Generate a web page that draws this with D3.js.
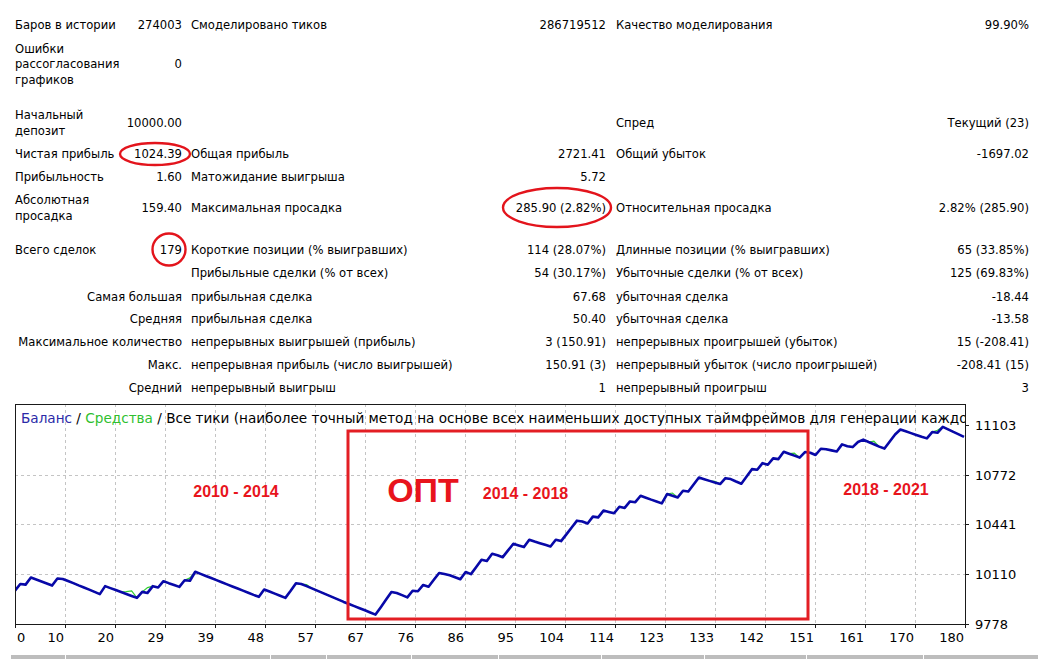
<!DOCTYPE html>
<html>
<head>
<meta charset="utf-8">
<script src="https://cdn.jsdelivr.net/npm/d3@7"></script>
<style>
  body { margin: 0; background: #fff; }
  svg { display: block; font-family: "DejaVu Sans", sans-serif; }
</style>
</head>
<body>
<div id="chart"></div>
<script>
// report table: label, value, label, value, label, value
const reportRows = [
  ["Баров в истории", "274003", "Смоделировано тиков", "286719512", "Качество моделирования", "99.90%"],
  ["Ошибки\nрассогласования\nграфиков", "0", "", "", "", ""],
  ["Начальный\nдепозит", "10000.00", "", "", "Спред", "Текущий (23)"],
  ["Чистая прибыль", "1024.39", "Общая прибыль", "2721.41", "Общий убыток", "-1697.02"],
  ["Прибыльность", "1.60", "Матожидание выигрыша", "5.72", "", ""],
  ["Абсолютная\nпросадка", "159.40", "Максимальная просадка", "285.90 (2.82%)", "Относительная просадка", "2.82% (285.90)"],
  ["Всего сделок", "179", "Короткие позиции (% выигравших)", "114 (28.07%)", "Длинные позиции (% выигравших)", "65 (33.85%)"],
  ["", "", "Прибыльные сделки (% от всех)", "54 (30.17%)", "Убыточные сделки (% от всех)", "125 (69.83%)"],
  ["Самая большая", "", "прибыльная сделка", "67.68", "убыточная сделка", "-18.44"],
  ["Средняя", "", "прибыльная сделка", "50.40", "убыточная сделка", "-13.58"],
  ["Максимальное количество", "", "непрерывных выигрышей (прибыль)", "3 (150.91)", "непрерывных проигрышей (убыток)", "15 (-208.41)"],
  ["Макс.", "", "непрерывная прибыль (число выигрышей)", "150.91 (3)", "непрерывный убыток (число проигрышей)", "-208.41 (15)"],
  ["Средний", "", "непрерывный выигрыш", "1", "непрерывный проигрыш", "3"]
];

// balance after each trade (trade 0 = initial deposit)
const balance = [
  10000, 10044, 10040, 10087, 10074, 10061, 10048, 10034, 10081, 10078,
  10064, 10050, 10035, 10021, 10007, 9992, 9977, 10030, 10017, 10004,
  9991, 9978, 9965, 9952, 9992, 9985, 10030, 10021, 10063, 10050,
  10038, 10025, 10069, 10066, 10126, 10112, 10098, 10084, 10070, 10056,
  10042, 10028, 10014, 10000, 9986, 9972, 9959, 10008, 9994, 9980,
  9966, 9952, 9999, 10049, 10044, 10030, 10015, 10000, 9985, 9970,
  9955, 9940, 9925, 9911, 9897, 9883, 9869, 9855, 9840.6, 9890,
  9941, 9991.5, 9984, 9970, 9955, 9999, 9996, 10038, 10026, 10073,
  10118, 10111, 10102, 10089, 10076, 10124, 10110, 10158, 10206, 10198,
  10246, 10236, 10223, 10268, 10312, 10301, 10290, 10339, 10327, 10316,
  10305, 10294, 10339, 10330, 10375, 10421, 10466, 10461, 10447, 10493,
  10488, 10533, 10524, 10515, 10559, 10551, 10594, 10589, 10632, 10619,
  10606, 10594, 10581, 10643, 10632, 10621, 10665, 10660, 10707, 10753,
  10742, 10731, 10720, 10710, 10749, 10743, 10727, 10712, 10760, 10809,
  10805, 10849, 10838, 10881, 10876, 10925, 10912, 10899, 10886, 10923,
  10918, 10903, 10945, 10941, 10934, 10927, 10974, 10962, 10956, 10990,
  11006, 10990, 10975, 10959, 10946, 10993, 11040, 11073, 11061, 11049,
  11037, 11025, 11014, 11056, 11051, 11091, 11074, 11057, 11041, 11024.39
];

// equity where it differs from balance: [trade, value]
const equityDiffs = [
  [21, 9993], [22, 9998], [25, 10020], [33, 10085], [55, 10040],
  [124, 10650], [132, 10728], [147, 10915], [162, 10995], [174, 11068]
];

const xTickLabels = ["0", "10", "20", "29", "39", "48", "57", "67", "76", "86",
  "95", "104", "114", "123", "133", "142", "151", "161", "170", "180"];
const yTickValues = [9778, 10110, 10441, 10772, 11103];

const periodLabels = ["2010 - 2014", "2014 - 2018", "2018 - 2021"];
const optLabel = "ОПТ";

const W = 1043, H = 659;
const svg = d3.select("#chart").append("svg")
  .attr("width", W)
  .attr("height", H);

// ---- table ----
const rowCenters = [25, 64, 122.5, 154, 177, 208, 250, 273, 296.5, 319, 342, 365, 388];
const lineH = 15.7;
const table = svg.append("g").attr("font-size", "11.6px").attr("fill", "#000");

function putText(str, x, cy, anchor) {
  if (!str) return;
  const lines = str.split("\n");
  const t = table.append("text")
    .attr("x", x)
    .attr("text-anchor", anchor);
  lines.forEach((ln, i) => {
    t.append("tspan")
      .attr("x", x)
      .attr("y", cy + 4.3 + (i - (lines.length - 1) / 2) * lineH)
      .text(ln);
  });
}

reportRows.forEach((r, i) => {
  const cy = rowCenters[i];
  const rightLabel = r[1] === "" && i > 7;
  putText(r[0], rightLabel ? 182 : 15, cy, rightLabel ? "end" : "start");
  putText(r[1], 182, cy, "end");
  putText(r[2], 191, cy, "start");
  putText(r[3], 606, cy, "end");
  putText(r[4], 616, cy, "start");
  putText(r[5], 1029, cy, "end");
});

// red hand-drawn circles
const redInk = "#e3141c";
[[155, 154, 35, 11], [557, 207.5, 54, 19.5], [169, 249.5, 16.5, 16]].forEach(e => {
  svg.append("ellipse")
    .attr("cx", e[0]).attr("cy", e[1])
    .attr("rx", e[2]).attr("ry", e[3])
    .attr("fill", "none")
    .attr("stroke", redInk)
    .attr("stroke-width", 2.4);
});

// ---- chart ----
const plot = { left: 15, right: 965, top: 404, bottom: 624 };

const x = d3.scaleLinear()
  .domain([0, balance.length - 1])
  .range([plot.left, plot.right - 1]);

const y = d3.scaleLinear()
  .domain([yTickValues[0], yTickValues[yTickValues.length - 1]])
  .range([plot.bottom, 425]);

const gridX = d3.scaleLinear()
  .domain([0, xTickLabels.length - 1])
  .range([plot.left, plot.right]);

svg.append("clipPath").attr("id", "plotClip")
  .append("rect")
  .attr("x", plot.left).attr("y", plot.top)
  .attr("width", plot.right - plot.left)
  .attr("height", plot.bottom - plot.top);

const grid = svg.append("g")
  .attr("stroke", "#c4c4c4")
  .attr("stroke-dasharray", "3,3");

xTickLabels.forEach((lab, i) => {
  if (i === 0 || i === xTickLabels.length - 1) return;
  grid.append("line")
    .attr("x1", gridX(i) + 0.5).attr("x2", gridX(i) + 0.5)
    .attr("y1", plot.top).attr("y2", plot.bottom);
});
yTickValues.slice(1, -1).forEach(v => {
  grid.append("line")
    .attr("x1", plot.left).attr("x2", plot.right)
    .attr("y1", Math.round(y(v)) + 0.5).attr("y2", Math.round(y(v)) + 0.5);
});

// title (cut off at the frame, as in the terminal)
const title = svg.append("text")
  .attr("x", 21)
  .attr("y", 423)
  .attr("font-size", "13.6px")
  .attr("clip-path", "url(#plotClip)");
title.append("tspan").attr("fill", "#2a2aa8").text("Баланс");
title.append("tspan").attr("fill", "#000").text(" / ");
title.append("tspan").attr("fill", "#2fbf2f").text("Средства");
title.append("tspan").attr("fill", "#000")
  .text(" / Все тики (наиболее точный метод на основе всех наименьших доступных таймфреймов для генерации каждо");

// lines
const equity = balance.slice();
equityDiffs.forEach(d => { equity[d[0]] = d[1]; });

const line = d3.line()
  .x((d, i) => x(i))
  .y(d => y(d));

const lines = svg.append("g").attr("clip-path", "url(#plotClip)");
lines.append("path")
  .datum(equity)
  .attr("d", line)
  .attr("fill", "none")
  .attr("stroke", "#32cd32")
  .attr("stroke-width", 1.2);
lines.append("path")
  .datum(balance)
  .attr("d", line)
  .attr("fill", "none")
  .attr("stroke", "#0808a8")
  .attr("stroke-width", 2.6)
  .attr("stroke-linejoin", "round");

// frame
svg.append("rect")
  .attr("x", plot.left + 0.5).attr("y", plot.top + 0.5)
  .attr("width", plot.right - plot.left)
  .attr("height", plot.bottom - plot.top)
  .attr("fill", "none")
  .attr("stroke", "#1a1a1a")
  .attr("stroke-width", 1);

// x axis ticks and labels
const xAxis = svg.append("g").attr("font-size", "13px").attr("fill", "#000");
xTickLabels.forEach((lab, i) => {
  const px = gridX(i);
  xAxis.append("line")
    .attr("x1", px + 0.5).attr("x2", px + 0.5)
    .attr("y1", plot.bottom).attr("y2", plot.bottom + 4)
    .attr("stroke", "#1a1a1a");
  xAxis.append("text")
    .attr("x", i === 0 ? px + 2 : px - 1)
    .attr("y", 641.5)
    .attr("text-anchor", i === 0 ? "start" : "end")
    .text(lab);
});

// y axis ticks and labels (right side)
const yAxis = svg.append("g").attr("font-size", "13px").attr("fill", "#000");
yTickValues.forEach(v => {
  const py = Math.round(y(v)) + 0.5;
  yAxis.append("line")
    .attr("x1", plot.right).attr("x2", plot.right + 4)
    .attr("y1", py).attr("y2", py)
    .attr("stroke", "#1a1a1a");
  yAxis.append("text")
    .attr("x", 975)
    .attr("y", py + 4.5)
    .text(v);
});

// annotations
svg.append("rect")
  .attr("x", 348).attr("y", 431)
  .attr("width", 460).attr("height", 188)
  .attr("fill", "none")
  .attr("stroke", "#e31e24")
  .attr("stroke-width", 3);

const ann = svg.append("g")
  .attr("font-family", "'Liberation Sans', Arial, sans-serif")
  .attr("font-weight", "bold")
  .attr("fill", "#e8141c")
  .attr("text-anchor", "middle");
[[236, 497], [525.5, 499], [886, 495]].forEach((p, i) => {
  ann.append("text")
    .attr("x", p[0]).attr("y", p[1])
    .attr("font-size", "16px")
    .text(periodLabels[i]);
});
ann.append("text")
  .attr("x", 423).attr("y", 502)
  .attr("font-size", "34px")
  .text(optLabel);

// cut-off header of the next table
const headerCells = [[11, 65], [66, 270], [271, 326], [327, 411], [412, 498], [499, 601], [602, 704], [705, 806], [807, 923], [924, 1038]];
svg.append("g").selectAll("rect")
  .data(headerCells)
  .join("rect")
  .attr("x", d => d[0]).attr("y", 655)
  .attr("width", d => d[1] - d[0]).attr("height", 4)
  .attr("fill", "#bdbdbd");
</script>
</body>
</html>
